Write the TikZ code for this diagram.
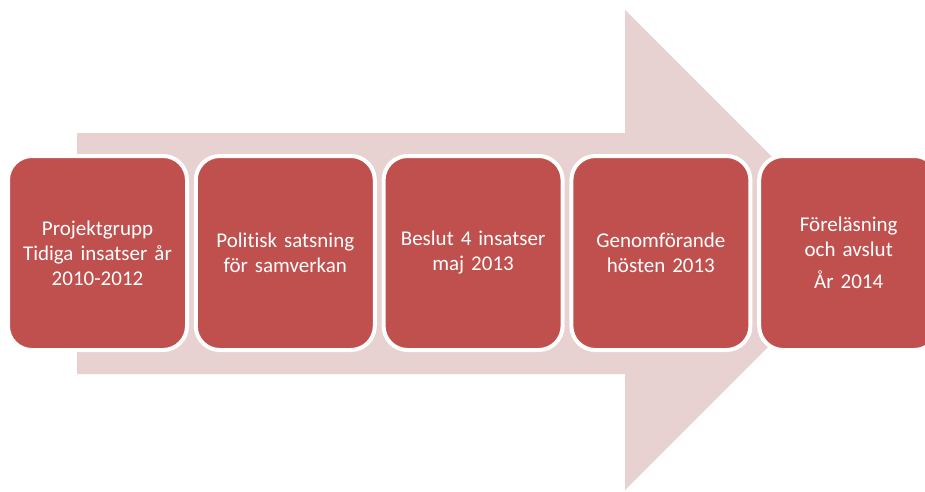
\documentclass[tikz,border=0pt]{standalone}
\usepackage{fontspec}
\setmainfont{Carlito}[Ligatures=NoCommon]
\usepackage{tikz}
\usetikzlibrary{positioning}
\usepackage{xcolor}
\definecolor{stepred}{HTML}{C0504D}
\definecolor{arrowpink}{HTML}{E8D1D1}
\tikzset{
	stagebox/.style={rectangle, rounded corners=24pt, fill=stepred, draw=white, line width=4pt,
		minimum width=179pt, minimum height=194pt, text width=170pt, align=center,
		text=white, font=\fontsize{21}{25}\selectfont}
}

\begin{document}
\begin{tikzpicture}[x=1pt,y=-1pt,node distance=187.8pt,on grid]
\useasboundingbox (0,0) rectangle (925,491);
\clip (0,0) rectangle (925,491);
% big arrow in the background
\fill[arrowpink] (77,133) -- (625,133) -- (625,10) -- (865,250) -- (625,490) -- (625,374) -- (77,374) -- cycle;
% stages
\node[stagebox] (s1) at (97.5,253) {Projektgrupp\\Tidiga insatser år\\2010-2012};
\node[stagebox, right=of s1] (s2) {Politisk satsning\\för samverkan};
\node[stagebox, right=of s2] (s3) {Beslut 4 insatser\\maj 2013};
\node[stagebox, right=of s3] (s4) {Genomförande\\hösten 2013};
\node[stagebox, right=of s4] (s5) {Föreläsning\\och avslut\\[7pt]År 2014};
\end{tikzpicture}
\end{document}
